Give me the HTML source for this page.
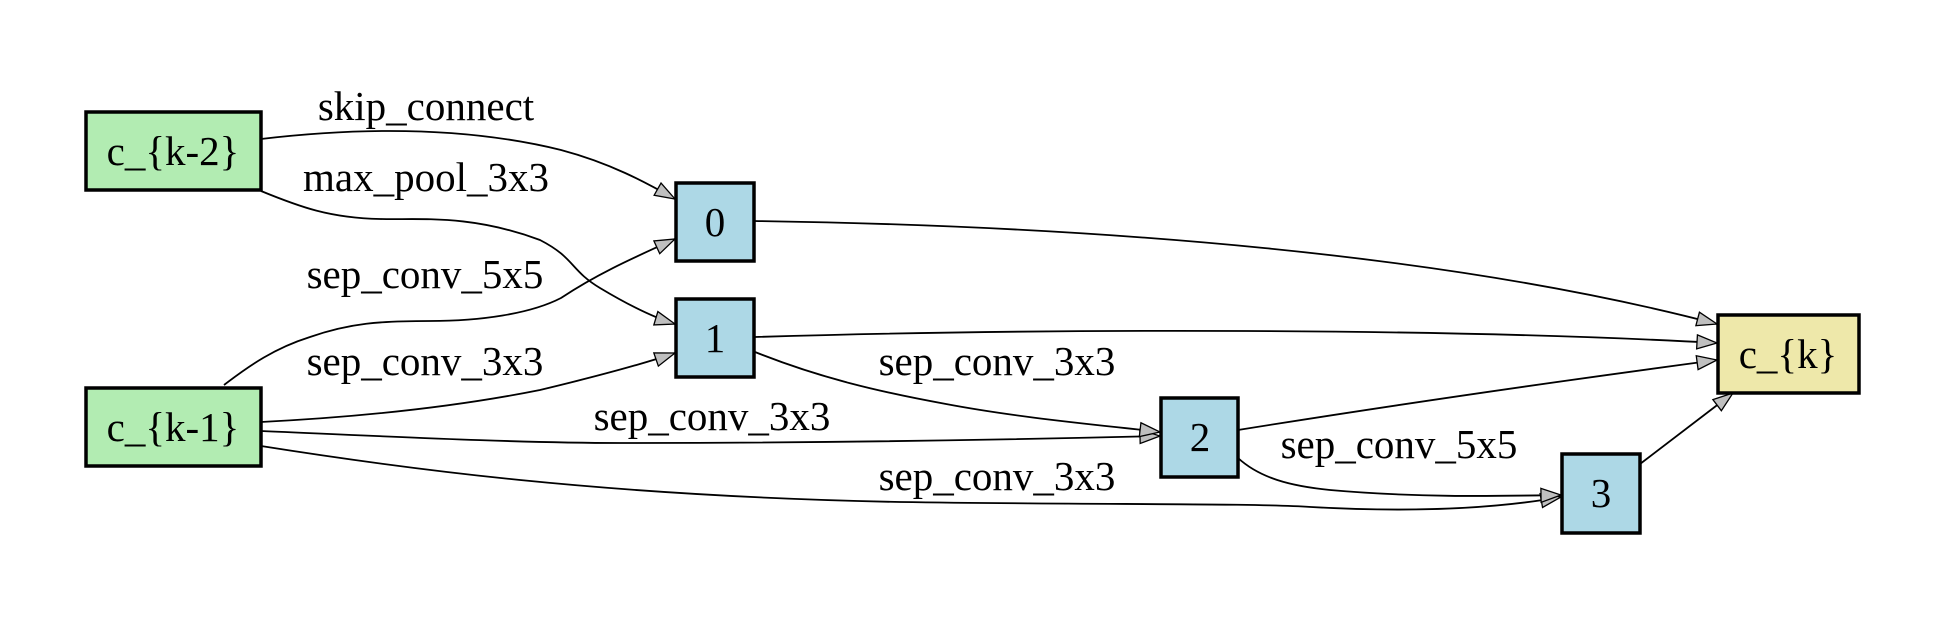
<!DOCTYPE html>
<html><head><meta charset="utf-8"><style>
html,body{margin:0;padding:0;background:#fff;}
svg{display:block;}
text{font-family:"Liberation Serif",serif;font-size:41px;fill:#000;}
</style></head><body>
<svg width="1945" height="619" viewBox="0 0 1945 619" xmlns="http://www.w3.org/2000/svg">
<defs>
<marker id="a" markerUnits="userSpaceOnUse" markerWidth="26" markerHeight="20" refX="21" refY="9" orient="auto">
<path d="M1,2 L21,9 L1,16 Z" fill="#bfbfbf" stroke="#000" stroke-width="1.3"/>
</marker>
</defs>
<g fill="none" stroke="#000" stroke-width="1.8" marker-end="url(#a)">
<path d="M261,139 C380,125 480,130 561,150 C610,163 645,182 675,199"/>
<path d="M261,191 C300,207 330,218 380,219 C420,220 470,214 540,240 C575,258 570,270 600,288 C630,306 655,318 675,324"/>
<path d="M224,385 C250,365 275,348 310,337 C350,323 380,321 430,321 C480,321 530,314 561,298 C600,272 640,255 675,239"/>
<path d="M261,422 C380,416 470,404 540,390 C590,378 640,365 675,353"/>
<path d="M261,431 C400,437 520,443 620,443 C800,443 1000,440 1160,436"/>
<path d="M261,446 C400,468 600,496 900,502 C1100,505 1250,503 1311,507 C1420,513 1500,508 1561,497"/>
<path d="M754,221 C1100,226 1450,254 1717,324"/>
<path d="M755,337 C1050,328 1450,328 1717,343"/>
<path d="M755,352 C820,378 880,392 946,404 C1020,418 1100,425 1160,432"/>
<path d="M1238,430 C1400,404 1560,381 1717,360"/>
<path d="M1238,458 C1260,478 1290,486 1330,490 C1420,498 1500,496 1561,495"/>
<path d="M1640,464 L1733,393"/>
</g>
<g stroke="#000" stroke-width="3.5">
<rect x="86" y="112" width="175" height="78" fill="#b2ecb2"/>
<rect x="86" y="388" width="175" height="78" fill="#b2ecb2"/>
<rect x="676" y="183" width="78" height="78" fill="#add8e6"/>
<rect x="676" y="299" width="78" height="78" fill="#add8e6"/>
<rect x="1161" y="398" width="77" height="79" fill="#add8e6"/>
<rect x="1562" y="454" width="78" height="79" fill="#add8e6"/>
<rect x="1718" y="315" width="141" height="78" fill="#eee8aa"/>
</g>
<g text-anchor="middle">
<text x="173" y="165">c_{k-2}</text>
<text x="173" y="441">c_{k-1}</text>
<text x="715" y="236">0</text>
<text x="715" y="352">1</text>
<text x="1200" y="451">2</text>
<text x="1601" y="507">3</text>
<text x="1788" y="368">c_{k}</text>
<text x="426" y="120">skip_connect</text>
<text x="426" y="191">max_pool_3x3</text>
<text x="425" y="288">sep_conv_5x5</text>
<text x="425" y="375">sep_conv_3x3</text>
<text x="712" y="430">sep_conv_3x3</text>
<text x="997" y="375">sep_conv_3x3</text>
<text x="1399" y="458">sep_conv_5x5</text>
<text x="997" y="490">sep_conv_3x3</text>
</g>
</svg>
</body></html>
